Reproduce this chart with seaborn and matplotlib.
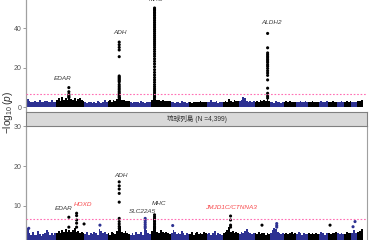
import numpy as np
import pandas as pd
import matplotlib
matplotlib.use("Agg")
import matplotlib.pyplot as plt
import seaborn as sns

# ---------------- data ----------------
chrom_len = [249.25, 243.2, 198.0, 191.15, 180.9, 171.1, 159.1, 146.4, 141.2, 135.5, 135.0,
             133.85, 115.2, 107.35, 102.5, 90.35, 81.2, 78.1, 59.1, 63.0, 48.1, 51.3]

# upper envelope of the dense background points (-log10 p), per chromosome bin
band_top = [
    [3.9, 3.0, 2.6, 2.8, 3.2, 2.5, 2.7, 3.4, 2.6, 2.4, 2.9, 3.1, 2.6, 2.8, 3.5, 2.7, 2.5],
    [3.6, 4.8, 3.2, 5.2, 3.8, 4.4, 3.5, 5.0, 4.2, 3.6, 4.6, 3.3, 3.9, 4.8, 3.4, 3.0],
    [2.4, 2.2, 2.8, 2.5, 2.0, 2.6, 2.3, 3.0, 2.4, 2.2, 2.7, 3.4, 2.5],
    [3.0, 3.4, 2.8, 3.6, 3.2, 4.0, 4.5, 5.2, 3.8, 3.5, 3.1, 3.3, 2.9],
    [2.5, 2.3, 2.8, 2.4, 2.6, 2.2, 2.9, 2.5, 2.3, 2.7, 2.4, 2.6],
    [3.5, 4.6, 4.0, 3.4, 3.7, 3.1, 3.5, 3.0, 3.3, 2.9, 3.2],
    [2.4, 2.8, 2.3, 2.6, 2.5, 2.2, 2.9, 2.4, 2.6, 2.3, 2.5],
    [2.6, 2.3, 2.8, 2.5, 2.7, 2.4, 3.0, 2.6, 2.4, 2.7],
    [2.5, 2.8, 3.6, 2.6, 2.4, 2.9, 2.3, 2.6, 2.5],
    [2.7, 3.0, 2.6, 3.9, 3.2, 2.8, 3.4, 2.9, 3.1],
    [3.0, 3.8, 5.3, 4.6, 3.2, 2.8, 3.1, 2.6, 2.9],
    [2.8, 3.2, 2.7, 3.6, 3.0, 3.4, 3.1, 4.2, 3.0],
    [2.4, 2.7, 2.3, 2.9, 2.5, 2.6, 2.2, 2.5],
    [2.6, 2.9, 2.5, 3.2, 2.7, 2.8, 2.6],
    [2.5, 2.8, 3.3, 2.6, 2.4, 2.9, 2.7],
    [2.7, 2.5, 3.0, 2.6, 2.8, 2.6],
    [2.6, 3.1, 2.7, 2.5, 2.9],
    [2.8, 2.5, 3.0, 2.7, 2.6],
    [2.7, 2.5, 2.9, 2.6],
    [2.6, 3.0, 2.7, 2.9],
    [2.5, 2.8, 2.6],
    [2.9, 3.2, 3.8],
]
band_bottom = [
    [4.3, 3.0, 2.6, 3.3, 2.7, 2.5, 3.6, 2.8, 2.4, 2.9, 3.2, 4.0, 3.5, 2.7, 3.0, 2.6, 3.1],
    [3.2, 3.6, 3.0, 3.8, 3.4, 4.2, 3.5, 3.9, 3.3, 4.0, 4.5, 3.4, 3.7, 3.1, 3.5, 3.2],
    [2.8, 3.4, 2.6, 3.2, 2.9, 3.5, 3.0, 2.7, 4.2, 3.6, 3.0, 3.3, 2.8],
    [3.0, 2.7, 3.4, 3.1, 2.8, 3.6, 4.2, 4.8, 3.5, 3.2, 3.6, 3.0, 2.9],
    [2.7, 3.1, 2.6, 3.4, 2.9, 2.8, 3.3, 2.7, 4.5, 3.9, 3.0, 2.8],
    [3.6, 4.8, 4.1, 3.5, 3.2, 3.8, 3.3, 3.0, 3.4, 3.1, 2.9],
    [3.0, 4.0, 3.4, 2.8, 3.2, 2.9, 3.6, 3.1, 2.7, 3.0, 2.8],
    [2.9, 3.3, 2.7, 3.0, 3.5, 2.8, 3.1, 2.9, 3.4, 3.0],
    [2.8, 3.2, 2.6, 3.0, 3.6, 2.7, 3.1, 2.9, 2.6],
    [3.1, 3.4, 3.9, 4.6, 3.3, 3.7, 3.0, 3.5, 3.2],
    [2.9, 3.3, 3.0, 3.6, 4.2, 3.4, 3.1, 2.8, 3.0],
    [3.0, 2.8, 3.3, 2.9, 3.2, 3.0, 2.7, 3.1, 2.9],
    [3.0, 3.8, 4.4, 4.1, 3.4, 3.0, 2.8, 3.1],
    [2.9, 3.2, 2.8, 3.0, 3.3, 2.9, 3.1],
    [2.8, 3.3, 3.0, 2.7, 3.1, 2.9, 2.8],
    [3.0, 2.8, 3.2, 2.9, 3.1, 2.8],
    [2.9, 3.3, 3.0, 2.7, 3.1],
    [3.1, 2.8, 3.2, 3.0, 3.3],
    [3.0, 2.8, 3.2, 2.9],
    [2.9, 3.4, 3.0, 3.2],
    [3.1, 3.9, 3.0],
    [3.3, 3.6, 4.2],
]

# top panel loci
top_genes = ["EDAR", "ADH", "MHC", "ALDH2"]
top_gene_chr = [2, 4, 6, 12]
top_gene_pos = [109.5, 100.2, 31.0, 112.2]
top_gene_vals = [
    [9.9, 7.8, 6.5, 5.8, 5.2, 4.8],
    [33.0, 31.7, 30.3, 29.0, 25.6, 15.8, 15.2, 14.6, 14.0, 13.4, 12.8, 11.5, 10.6, 9.7,
     8.9, 8.0, 7.2, 6.5, 5.9, 5.3, 4.7],
    [50.3, 49.6, 48.9, 48.1, 47.3, 46.5, 45.6, 44.8, 43.9, 43.0, 42.1, 41.2, 40.3, 39.4,
     38.5, 37.5, 36.5, 35.5, 34.5, 33.5, 32.5, 31.5, 30.4, 29.3, 28.2, 27.0, 25.8, 24.5,
     23.2, 21.9, 20.5, 19.0, 17.6, 16.3, 15.0, 13.8, 12.6, 11.4, 10.3, 9.2, 8.2, 7.2,
     6.3, 5.5, 4.7],
    [37.4, 30.1, 27.5, 26.6, 25.8, 25.0, 24.2, 23.4, 22.6, 21.5, 20.7, 19.6, 18.4, 17.3,
     16.1, 13.8, 9.6, 7.0, 5.6, 4.6],
]

# bottom panel loci
bottom_genes = ["EDAR", "HOXD", "ADH", "SLC22A5", "MHC", "JMJD1C/CTNNA3"]
bottom_gene_chr = [2, 2, 4, 5, 6, 10]
bottom_gene_pos = [109.5, 176.1, 100.2, 131.7, 31.0, 65.0]
bottom_gene_vals = [
    [7.1, 4.6],
    [8.1, 7.5, 6.4, 5.6, 4.6],
    [16.0, 15.0, 14.2, 13.1, 10.9, 6.8, 6.0, 5.4, 4.8, 4.3],
    [6.8, 6.3, 5.8, 5.3, 4.8, 4.4],
    [7.7, 7.2, 6.8, 6.4, 6.0, 5.6, 5.2, 4.8, 4.5, 4.2],
    [7.4, 6.4, 5.1, 4.6],
]
bottom_gene_highlight = [False, True, False, False, False, True]

# scattered single points in bottom panel
bottom_extra_chr = [1, 2, 3, 7, 12, 13, 13, 13, 18, 21, 21]
bottom_extra_pos = [15.0, 240.0, 133.0, 15.6, 64.0, 56.5, 56.5, 56.5, 17.0, 14.0, 31.0]
bottom_extra_val = [4.3, 5.4, 5.1, 5.0, 5.1, 5.5, 5.0, 4.6, 5.1, 4.7, 6.0]

threshold = 6.7
strip_label = "琉球列島 (N =4,399)"
ylabel = r"$-\log_{10}(\mathit{p})$"
top_ticks = [0, 20, 40]
bottom_ticks = [10, 20, 30]

# ---------------- style ----------------
sns.set_theme(style="white")
plt.rcParams["font.family"] = ["Liberation Sans", "Noto Sans CJK JP", "DejaVu Sans"]
plt.rcParams["mathtext.fontset"] = "custom"
plt.rcParams["mathtext.rm"] = "Liberation Sans"
plt.rcParams["mathtext.it"] = "Liberation Sans:italic"

BLUE = "#2d3192"
BLACK = "#000000"
PINK = "#ff6eb4"
RED = "#f8474a"
LABEL = "#3a3a3a"
SPINE = "#a0a0a0"

offsets = np.concatenate([[0.0], np.cumsum(chrom_len)[:-1]])
total = float(np.sum(chrom_len))


def chrom_color(c):
    return BLUE if c % 2 == 1 else BLACK


def points_frame(chrs, poss, vals_list):
    rows = []
    for c, p, vals in zip(chrs, poss, vals_list):
        for v in vals:
            rows.append({"x": offsets[c - 1] + p, "y": v, "grp": "odd" if c % 2 == 1 else "even"})
    return pd.DataFrame(rows)


def draw_band(ax, bands):
    for i, h in enumerate(bands):
        n = len(h)
        xs = offsets[i] + np.linspace(0, chrom_len[i], n + 1)
        ys = list(h) + [h[-1]]
        ax.fill_between(xs, 0, ys, step="post", color=chrom_color(i + 1), linewidth=0, zorder=2)


W, H = 370, 240
fig = plt.figure(figsize=(3.7, 2.4), dpi=100)

px_per_mb = 336.0 / total
xlim = (-1.0 / px_per_mb, total + 4.0 / px_per_mb)

# top panel
ax1 = fig.add_axes([26 / W, (H - 111) / H, 341 / W, 141 / H])
# bottom panel
ax2 = fig.add_axes([26 / W, (H - 250) / H, 341 / W, 124 / H])

for ax in (ax1, ax2):
    ax.set_facecolor("white")
    ax.set_xlim(*xlim)
    ax.set_xticks([])
    ax.tick_params(axis="y", length=2.2, width=0.6, color="#8a8a8a", labelsize=5,
                   labelcolor="#555555", pad=1.0, left=True)
    for s in ax.spines.values():
        s.set_visible(False)
    ax.spines["left"].set_visible(True)
    ax.spines["left"].set_color(SPINE)
    ax.spines["left"].set_linewidth(0.9)

ax2.spines["right"].set_visible(True)
ax2.spines["right"].set_color(SPINE)
ax2.spines["right"].set_linewidth(0.8)

ax1.set_ylim(-1.98, 69.6)
ax2.set_ylim(-1.16, 30.08)
ax1.set_yticks(top_ticks)
ax2.set_yticks(bottom_ticks)

draw_band(ax1, band_top)
draw_band(ax2, band_bottom)

pal = {"odd": BLUE, "even": BLACK}
df_top = points_frame(top_gene_chr, top_gene_pos, top_gene_vals)
sns.scatterplot(data=df_top, x="x", y="y", hue="grp", palette=pal, s=5, linewidth=0,
                legend=False, ax=ax1, zorder=3)
df_bot = pd.concat([
    points_frame(bottom_gene_chr, bottom_gene_pos, bottom_gene_vals),
    points_frame(bottom_extra_chr, bottom_extra_pos, [[v] for v in bottom_extra_val]),
])
sns.scatterplot(data=df_bot, x="x", y="y", hue="grp", palette=pal, s=5, linewidth=0,
                legend=False, ax=ax2, zorder=3)
for ax in (ax1, ax2):
    ax.set_xlabel("")
    ax.set_ylabel("")
    ax.axhline(threshold, color=PINK, lw=0.8, ls=(0, (1.5, 1.6)), zorder=4)

# gene labels: offsets in points (style)
top_offsets = {"EDAR": (-4.2, 6.3), "ADH": (0.5, 7.2), "MHC": (0.8, 6.0), "ALDH2": (2.6, 8.1)}
bottom_offsets = {"EDAR": (-4.0, 6.0), "HOXD": (4.7, 6.5), "ADH": (1.0, 4.3),
                  "SLC22A5": (-1.8, 5.3), "MHC": (3.6, 8.4), "JMJD1C/CTNNA3": (0.0, 6.0)}

for g, c, p, vals in zip(top_genes, top_gene_chr, top_gene_pos, top_gene_vals):
    dx, dy = top_offsets[g]
    ax1.annotate(g, (offsets[c - 1] + p, max(vals)), xytext=(dx, dy), textcoords="offset points",
                 ha="center", va="center", fontsize=4.6, style="italic", color=LABEL,
                 annotation_clip=False, zorder=5)
for g, c, p, vals, hl in zip(bottom_genes, bottom_gene_chr, bottom_gene_pos, bottom_gene_vals,
                             bottom_gene_highlight):
    dx, dy = bottom_offsets[g]
    ax2.annotate(g, (offsets[c - 1] + p, max(vals)), xytext=(dx, dy), textcoords="offset points",
                 ha="center", va="center", fontsize=4.6, style="italic",
                 color=RED if hl else LABEL, annotation_clip=False, zorder=5)

# facet strip of the bottom panel
sax = fig.add_axes([26 / W, (H - 126) / H, 341 / W, 14 / H])
sax.set_facecolor("#d9d9d9")
sax.set_xticks([])
sax.set_yticks([])
for s in sax.spines.values():
    s.set_visible(True)
    s.set_color("#808080")
    s.set_linewidth(0.8)
sax.text(0.5, 0.5, strip_label, ha="center", va="center", fontsize=4.8, color="#333333",
         transform=sax.transAxes)

fig.text(8 / W, 1 - 113 / H, ylabel, rotation=90, ha="center", va="center",
         fontsize=7.3, color="#333333")

fig.savefig("out.png", dpi=100)
